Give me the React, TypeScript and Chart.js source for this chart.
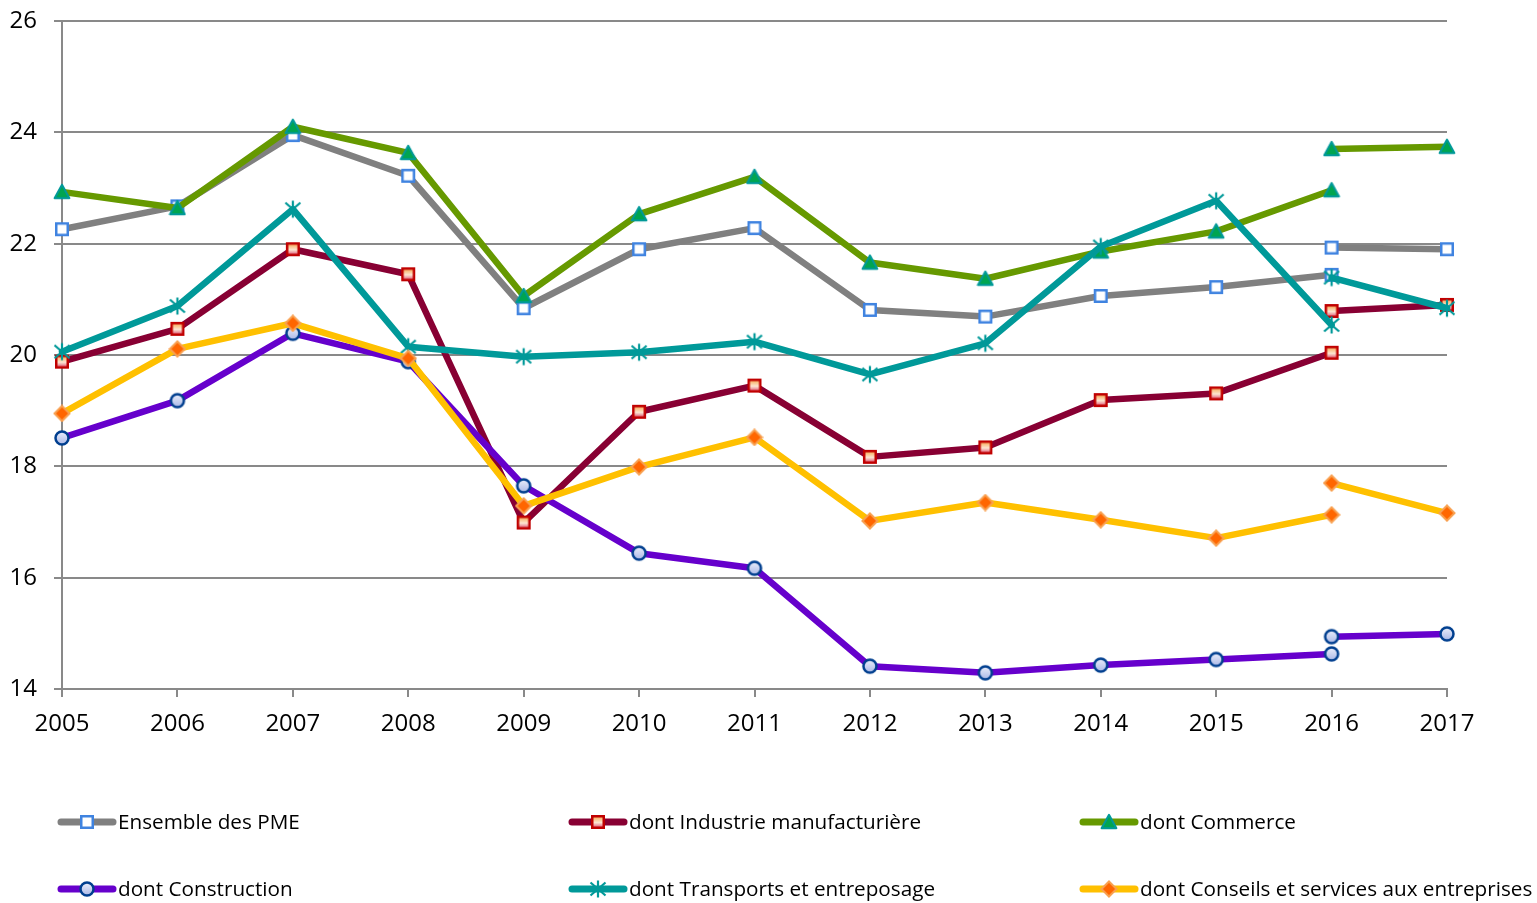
import React, { useEffect, useRef } from 'react';
import { Chart, registerables } from 'chart.js';

Chart.register(...registerables);

// Categories (x axis)
const years = ['2005', '2006', '2007', '2008', '2009', '2010', '2011', '2012', '2013', '2014', '2015', '2016', '2017'];

// Y-axis range / ticks
const yMin = 14;
const yMax = 26;
const yStep = 2;

// Series values 2005–2016 (first basis)
const ensembleA = [22.26, 22.67, 23.95, 23.22, 20.84, 21.90, 22.28, 20.81, 20.69, 21.06, 21.22, 21.44];
const industrieA = [19.88, 20.47, 21.90, 21.45, 16.99, 18.98, 19.45, 18.17, 18.34, 19.19, 19.31, 20.04];
const commerceA = [22.93, 22.64, 24.10, 23.63, 21.06, 22.53, 23.20, 21.66, 21.37, 21.86, 22.22, 22.96];
const constructionA = [18.51, 19.18, 20.39, 19.88, 17.65, 16.44, 16.17, 14.41, 14.29, 14.43, 14.53, 14.63];
const transportsA = [20.06, 20.88, 22.62, 20.15, 19.97, 20.05, 20.24, 19.65, 20.21, 21.95, 22.77, 20.54];
const conseilsA = [18.95, 20.11, 20.57, 19.94, 17.29, 17.99, 18.52, 17.02, 17.35, 17.04, 16.71, 17.13];

// Series values 2016–2017 (new basis)
const ensembleB = [21.93, 21.90];
const industrieB = [20.79, 20.90];
const commerceB = [23.70, 23.74];
const constructionB = [14.94, 14.99];
const transportsB = [21.39, 20.84];
const conseilsB = [17.70, 17.16];

const seriesNames = [
  'Ensemble des PME',
  'dont Industrie manufacturière',
  'dont Commerce',
  'dont Construction',
  'dont Transports et entreposage',
  'dont Conseils et services aux entreprises',
];

const FONT = '"Open Sans", "DejaVu Sans", sans-serif';

function makeCanvas(size: number, draw: (ctx: CanvasRenderingContext2D, s: number) => void) {
  const c = document.createElement('canvas');
  c.width = size;
  c.height = size;
  const ctx = c.getContext('2d') as CanvasRenderingContext2D;
  draw(ctx, size);
  return c;
}

function makeMarkers() {
  const squareBlue = makeCanvas(16, (ctx) => {
    ctx.fillStyle = '#ffffff';
    ctx.fillRect(2.25, 2.25, 11.5, 11.5);
    ctx.lineWidth = 2.5;
    ctx.strokeStyle = '#3F83E0';
    ctx.strokeRect(2.25, 2.25, 11.5, 11.5);
  });
  const squareRed = makeCanvas(16, (ctx) => {
    const g = ctx.createLinearGradient(0, 2, 0, 14);
    g.addColorStop(0, '#F7A447');
    g.addColorStop(0.55, '#FDE6D2');
    g.addColorStop(1, '#D9486E');
    ctx.fillStyle = g;
    ctx.fillRect(2.25, 2.25, 11.5, 11.5);
    ctx.lineWidth = 2.5;
    ctx.strokeStyle = '#C00000';
    ctx.strokeRect(2.25, 2.25, 11.5, 11.5);
  });
  const triangle = makeCanvas(18, (ctx) => {
    ctx.beginPath();
    ctx.moveTo(9, 1.8);
    ctx.lineTo(16.4, 15.2);
    ctx.lineTo(1.6, 15.2);
    ctx.closePath();
    ctx.fillStyle = '#00A550';
    ctx.fill();
    ctx.lineWidth = 2;
    ctx.lineJoin = 'round';
    ctx.strokeStyle = '#009999';
    ctx.stroke();
  });
  const circle = makeCanvas(18, (ctx) => {
    const g = ctx.createLinearGradient(0, 2, 0, 16);
    g.addColorStop(0, '#EEF1FC');
    g.addColorStop(1, '#A8B6E6');
    ctx.beginPath();
    ctx.arc(9, 9, 6.5, 0, Math.PI * 2);
    ctx.fillStyle = g;
    ctx.fill();
    ctx.lineWidth = 2.5;
    ctx.strokeStyle = '#003F8F';
    ctx.stroke();
  });
  const star = makeCanvas(20, (ctx) => {
    ctx.strokeStyle = '#009999';
    ctx.lineWidth = 2.2;
    ctx.beginPath();
    ctx.moveTo(2.5, 3.5);
    ctx.lineTo(17.5, 16.5);
    ctx.moveTo(17.5, 3.5);
    ctx.lineTo(2.5, 16.5);
    ctx.moveTo(10, 1.5);
    ctx.lineTo(10, 18.5);
    ctx.stroke();
  });
  const diamond = makeCanvas(18, (ctx) => {
    ctx.beginPath();
    ctx.moveTo(9, 1.5);
    ctx.lineTo(16.5, 9);
    ctx.lineTo(9, 16.5);
    ctx.lineTo(1.5, 9);
    ctx.closePath();
    ctx.fillStyle = '#FF6600';
    ctx.fill();
    ctx.lineWidth = 2;
    ctx.strokeStyle = '#F8A050';
    ctx.stroke();
  });
  return [squareBlue, squareRed, triangle, circle, star, diamond];
}

const lineColors = ['#808080', '#880033', '#669900', '#6600CC', '#009999', '#FFC000'];

export default function App() {
  const ref = useRef<HTMLCanvasElement | null>(null);

  useEffect(() => {
    document.body.style.margin = '0';
    const canvas = ref.current;
    if (!canvas) return;
    const markers = makeMarkers();
    const partA = [ensembleA, industrieA, commerceA, constructionA, transportsA, conseilsA];
    const partB = [ensembleB, industrieB, commerceB, constructionB, transportsB, conseilsB];
    const nBefore = years.length - 2;

    const datasets: any[] = [];
    seriesNames.forEach((name, i) => {
      const common = {
        borderColor: lineColors[i],
        backgroundColor: lineColors[i],
        borderWidth: 6.5,
        borderJoinStyle: 'round',
        borderCapStyle: 'round',
        pointStyle: markers[i],
        pointRadius: 8,
        pointHoverRadius: 8,
        tension: 0,
        spanGaps: false,
        order: seriesNames.length - i,
      };
      datasets.push({ ...common, label: name, data: [...partA[i], null] });
      datasets.push({
        ...common,
        label: name + ' (2016-2017)',
        data: [...new Array(nBefore).fill(null), ...partB[i]],
      });
    });

    const legendPlugin = {
      id: 'customLegend',
      afterDraw(chart: any) {
        const ctx = chart.ctx as CanvasRenderingContext2D;
        const cols = [58, 569, 1080];
        const rows = [823, 890];
        ctx.save();
        seriesNames.forEach((name, i) => {
          const x = cols[i % 3];
          const y = rows[Math.floor(i / 3)];
          ctx.beginPath();
          ctx.strokeStyle = lineColors[i];
          ctx.lineWidth = 7;
          ctx.lineCap = 'round';
          ctx.moveTo(x + 3, y - 1);
          ctx.lineTo(x + 55, y - 1);
          ctx.stroke();
          const m = markers[i];
          ctx.drawImage(m, x + 29 - m.width / 2, y - 1 - m.height / 2);
          ctx.fillStyle = '#000000';
          ctx.font = `20.7px ${FONT}`;
          ctx.textBaseline = 'middle';
          ctx.textAlign = 'left';
          ctx.fillText(name, x + 60, y);
        });
        ctx.restore();
      },
    };

    const chart = new Chart(canvas, {
      type: 'line',
      data: { labels: years, datasets },
      options: {
        animation: false,
        responsive: false,
        maintainAspectRatio: false,
        events: [],
        layout: { padding: { left: 0, right: 90, top: 21, bottom: 154 } },
        plugins: {
          legend: { display: false },
          tooltip: { enabled: false },
          title: { display: false },
        },
        scales: {
          x: {
            type: 'category',
            offset: false,
            grid: {
              drawOnChartArea: false,
              drawTicks: true,
              tickLength: 8,
              color: '#898989',
              lineWidth: 2,
            },
            border: { display: true, color: '#898989', width: 2 },
            ticks: {
              color: '#000000',
              font: { family: FONT, size: 24 },
              padding: 13,
              maxRotation: 0,
              autoSkip: false,
            },
            afterFit: (scale: any) => {
              scale.height = 60;
            },
          },
          y: {
            min: yMin,
            max: yMax,
            grid: {
              color: '#898989',
              lineWidth: 2,
              tickLength: 8,
              drawTicks: true,
            },
            border: { display: true, color: '#898989', width: 2 },
            ticks: {
              stepSize: yStep,
              color: '#000000',
              font: { family: FONT, size: 24 },
              padding: 17,
            },
            afterFit: (scale: any) => {
              scale.width = 62;
              scale.paddingTop = 0;
              scale.paddingBottom = 0;
            },
          },
        },
      } as any,
      plugins: [legendPlugin],
    });

    return () => {
      chart.destroy();
    };
  }, []);

  return (
    <div style={{ width: 1537, height: 903 }}>
      <canvas ref={ref} width={1537} height={903} style={{ display: 'block' }} />
    </div>
  );
}
